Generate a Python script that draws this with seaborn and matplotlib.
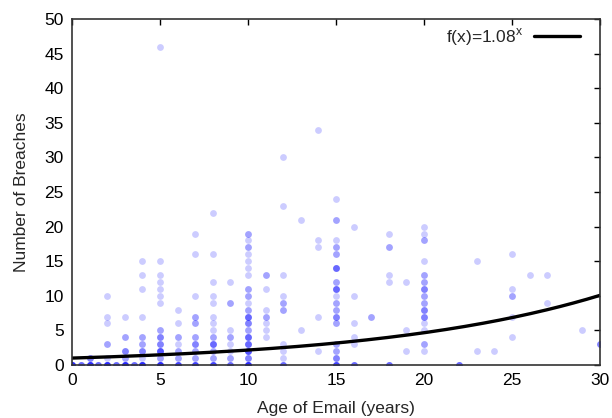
import numpy as np
import pandas as pd
import matplotlib
matplotlib.use("Agg")
import matplotlib.pyplot as plt
import seaborn as sns

# ==================================
# DATA
# each (age, breaches) pair with how many emails sit on that spot
# ==================================

age = [0, 0.5, 1, 1, 1.5,
       2, 2, 2, 2, 2, 2, 2.5,
       3, 3, 3, 3, 3, 3.5,
       4, 4, 4, 4, 4, 4, 4, 4, 4,
       5, 5, 5, 5, 5, 5, 5, 5, 5, 5, 5, 5, 5,
       6, 6, 6, 6, 6, 6, 6,
       7, 7, 7, 7, 7, 7, 7, 7, 7, 7,
       8, 8, 8, 8, 8, 8, 8, 8, 8, 8, 8, 8, 8,
       9, 9, 9, 9, 9, 9, 9, 9,
       10, 10, 10, 10, 10, 10, 10, 10, 10, 10, 10, 10, 10, 10, 10, 10, 10, 10, 10,
       11, 11, 11, 11, 11, 11, 11,
       12, 12, 12, 12, 12, 12, 12, 12, 12, 12,
       13, 13,
       14, 14, 14, 14, 14,
       15, 15, 15, 15, 15, 15, 15, 15, 15, 15, 15, 15, 15, 15, 15, 15, 15,
       16, 16, 16, 16, 16, 16,
       17,
       18, 18, 18, 18, 18,
       19, 19, 19,
       20, 20, 20, 20, 20, 20, 20, 20, 20, 20, 20, 20, 20, 20, 20,
       22, 23, 23, 24,
       25, 25, 25, 25, 25,
       26, 27, 27, 29, 30]

breaches = [0, 0, 1, 0, 0,
            10, 7, 6, 3, 1, 0, 0,
            7, 4, 2, 1, 0, 0,
            15, 13, 11, 7, 4, 3, 2, 1, 0,
            46, 15, 13, 12, 11, 10, 9, 5, 4, 3, 2, 1, 0,
            8, 6, 4, 3, 2, 1, 0,
            19, 16, 10, 7, 6, 4, 3, 2, 1, 0,
            22, 16, 12, 10, 9, 7, 6, 5, 4, 3, 2, 1, 0,
            12, 9, 5, 4, 3, 2, 1, 0,
            19, 18, 17, 16, 15, 14, 13, 11, 10, 9, 8, 7, 6, 5, 4, 3, 2, 1, 0,
            13, 11, 8, 7, 6, 5, 4,
            30, 23, 13, 10, 9, 8, 3, 2, 1, 0,
            21, 5,
            34, 18, 17, 7, 2,
            24, 21, 18, 17, 16, 14, 12, 11, 10, 9, 8, 7, 6, 3, 2, 1, 0,
            20, 10, 6, 4, 3, 0,
            7,
            19, 17, 13, 12, 0,
            12, 5, 2,
            20, 19, 18, 15, 13, 12, 11, 10, 9, 8, 7, 6, 5, 3, 2,
            0, 15, 2, 2,
            16, 11, 10, 7, 4,
            13, 13, 9, 5, 3]

n_emails = [8, 4, 3, 8, 4,
            1, 1, 1, 2, 1, 8, 4,
            1, 2, 3, 2, 8, 4,
            1, 1, 1, 1, 2, 2, 3, 1, 8,
            1, 1, 1, 1, 1, 1, 1, 2, 3, 3, 5, 2, 8,
            1, 1, 2, 1, 2, 2, 6,
            1, 1, 1, 2, 2, 2, 3, 2, 2, 6,
            1, 1, 1, 1, 1, 1, 1, 1, 2, 4, 2, 2, 6,
            1, 2, 1, 2, 1, 1, 2, 4,
            2, 1, 2, 1, 1, 1, 1, 2, 2, 1, 2, 4, 3, 2, 4, 4, 5, 3, 8,
            2, 1, 1, 2, 1, 1, 1,
            1, 1, 1, 1, 2, 2, 1, 1, 1, 4,
            1, 1,
            1, 1, 1, 1, 1,
            1, 2, 1, 2, 2, 4, 2, 4, 1, 2, 2, 3, 2, 2, 2, 3, 6,
            1, 1, 1, 1, 1, 4,
            2,
            1, 2, 1, 1, 4,
            1, 1, 1,
            1, 1, 2, 1, 2, 2, 3, 2, 2, 3, 3, 1, 1, 2, 1,
            4, 1, 1, 1,
            1, 1, 2, 1, 1,
            1, 1, 1, 1, 3]

growth_base = 1.08
legend_label = "f(x)=1.08$^{\\mathregular{x}}$"

# ==================================
# BUILD TABLE
# ==================================

df = pd.DataFrame({"Age": age, "Breaches": breaches, "Count": n_emails})
points = df.loc[df.index.repeat(df["Count"])].reset_index(drop=True)

curve_x = np.linspace(0, 30, 200)
curve = pd.DataFrame({"Age": curve_x, "Fit": growth_base ** curve_x})

# ==================================
# PLOT
# ==================================

sns.set_style("white")
plt.rcParams["font.family"] = ["Liberation Sans", "DejaVu Sans"]
plt.rcParams["mathtext.fontset"] = "custom"
plt.rcParams["mathtext.rm"] = "Liberation Sans"

fs = 12.5

fig = plt.figure(figsize=(6.12, 4.18), dpi=100)
ax = fig.add_axes([0.1176, 0.1268, 0.8627, 0.8277])

sns.scatterplot(
    data=points,
    x="Age",
    y="Breaches",
    color="#0000ff",
    alpha=0.2,
    s=24,
    linewidth=0,
    ax=ax,
)

sns.lineplot(
    data=curve,
    x="Age",
    y="Fit",
    color="black",
    linewidth=2.4,
    label=legend_label,
    ax=ax,
)

ax.set_xlim(0, 30)
ax.set_ylim(0, 50)
ax.set_xticks(range(0, 31, 5))
ax.set_yticks(range(0, 51, 5))
ax.set_xlabel("Age of Email (years)", fontsize=fs, labelpad=9)
ax.set_ylabel("Number of Breaches", fontsize=fs, labelpad=11)

ax.tick_params(direction="in", length=4.5, width=1, top=True, right=True,
               labelsize=fs, colors="black")
ax.tick_params(axis="x", pad=6)
ax.tick_params(axis="y", pad=6)
for side in ax.spines.values():
    side.set_visible(True)
    side.set_color("#333333")
    side.set_linewidth(1.2)

ax.legend(
    loc="upper right",
    frameon=False,
    markerfirst=False,
    handlelength=2.65,
    handletextpad=0.6,
    fontsize=fs,
    borderaxespad=0.0,
    bbox_to_anchor=(0.975, 1.0),
)

fig.savefig("out.png", dpi=100)
